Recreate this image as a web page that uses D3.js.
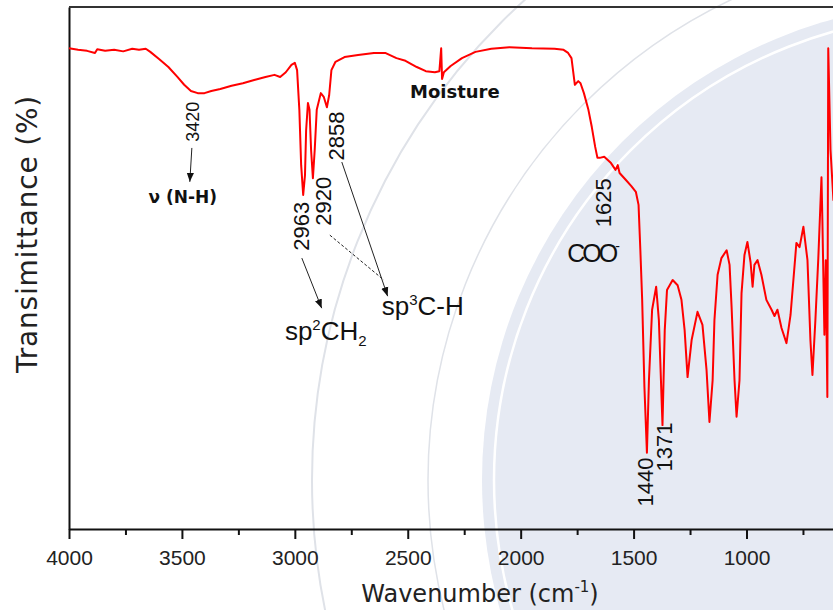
<!DOCTYPE html>
<html>
  <head>
    <title></title>
    <meta charset="UTF-8" />
    <script src="https://cdn.jsdelivr.net/npm/d3@7"></script>
    <style>
      body { margin: 0; background: #fff; }
      svg { display: block; }
    </style>
  </head>
  <body>
    <svg></svg>
    <script>
      // 1. data
      const wavenumber = [
        4000, 3960, 3920, 3885, 3875, 3840, 3800, 3760, 3720, 3690, 3660, 3640,
        3600, 3560, 3520, 3490, 3460, 3430, 3400, 3370, 3330, 3280, 3230, 3180,
        3130, 3090, 3065, 3040, 3015, 3000, 2990, 2980, 2972, 2963, 2955, 2950,
        2942, 2935, 2928, 2920, 2912, 2903, 2885, 2872, 2858, 2848, 2838, 2820,
        2780, 2720, 2650, 2600, 2550, 2510, 2460, 2420, 2380, 2360, 2352, 2348,
        2340, 2310, 2260, 2200, 2130, 2050, 1950, 1850, 1810, 1790, 1775, 1760,
        1745, 1735, 1720, 1700, 1685, 1670, 1660, 1650, 1630, 1600, 1580, 1570,
        1562, 1535, 1510, 1490, 1478, 1470, 1462, 1452, 1441, 1432, 1418, 1400,
        1388, 1372, 1362, 1352, 1327, 1305, 1288, 1274, 1261, 1243, 1217, 1195,
        1177, 1164, 1150, 1142, 1128, 1111, 1088, 1075, 1066, 1053, 1044, 1031,
        1022, 1009, 996, 982, 973, 965, 951, 934, 912, 889, 876, 863, 845, 823,
        805, 779, 765, 748, 730, 717, 708, 695, 682, 668, 664, 655, 649, 642,
        638, 628, 615, 600
      ]
      const transmittance = [
        92.1, 91.8, 91.6, 91.2, 91.9, 91.6, 91.8, 91.5, 92.0, 91.8, 92.0, 91.4,
        90.0, 88.5, 86.6, 85.1, 83.9, 83.5, 83.5, 83.9, 84.3, 84.9, 85.4, 86.0,
        86.6, 87.0, 86.6, 87.5, 88.9, 89.3, 87.9, 80.3, 69.7, 64.0, 67.8, 76.4,
        81.6, 80.3, 72.6, 67.2, 72.6, 80.3, 83.5, 82.8, 80.8, 83.1, 87.9, 89.5,
        90.4, 90.8, 91.2, 91.2, 90.2, 89.7, 88.5, 87.7, 87.5, 87.7, 92.1, 86.2,
        87.5, 88.7, 90.2, 91.4, 92.0, 92.3, 92.1, 92.0, 91.8, 91.2, 90.2, 85.1,
        85.8, 85.4, 83.5, 80.3, 77.0, 73.2, 71.1, 71.1, 71.3, 70.1, 68.8, 69.7,
        68.2, 66.9, 65.7, 64.6, 62.1, 53.4, 43.9, 27.2, 14.6, 28.5, 42.0, 46.4,
        40.0, 19.9, 38.1, 45.8, 47.7, 46.7, 43.9, 38.1, 29.1, 36.2, 41.6, 39.1,
        30.5, 20.5, 28.5, 40.0, 48.7, 51.9, 53.4, 50.6, 42.5, 28.5, 21.5, 28.5,
        45.2, 52.5, 55.0, 51.1, 46.4, 50.6, 51.5, 48.7, 43.9, 42.0, 40.8, 42.0,
        38.5, 35.6, 41.0, 54.8, 54.0, 57.9, 51.5, 36.2, 29.5, 40.0, 51.9, 67.4,
        59.2, 37.2, 51.5, 25.3, 92.1, 72.6, 63.0, 72.6
      ]
      const majorTicks = [4000, 3500, 3000, 2500, 2000, 1500, 1000]
      const minorTicks = [3750, 3250, 2750, 2250, 1750, 1250, 750]
      const peakLabels = ["3420", "2963", "2920", "2858", "1625", "1440", "1371"]

      // 2. setup
      const width = 833
      const height = 610
      const marge = { top: 7, bottom: 81, left: 69 }
      const plotRight = 882

      const svg = d3
        .select("svg")
        .attr("width", width)
        .attr("height", height)
        .attr("viewBox", [0, 0, width, height])

      const x = d3.scaleLinear().domain([4000, 400]).range([marge.left, plotRight])
      const y = d3.scaleLinear().domain([0, 100]).range([height - marge.bottom, marge.top])

      // 3. background watermark (circles)
      const wm = svg.append("g")
      wm.append("circle").attr("cx", 960).attr("cy", 480).attr("r", 478).attr("fill", "#e6eaf3")
      wm.append("circle").attr("cx", 960).attr("cy", 480).attr("r", 466)
        .attr("fill", "none").attr("stroke", "#fff").attr("stroke-width", 2.5)
      wm.append("circle").attr("cx", 960).attr("cy", 480).attr("r", 532)
        .attr("fill", "none").attr("stroke", "#dfe2e8").attr("stroke-width", 1.5)
      wm.append("circle").attr("cx", 960).attr("cy", 480).attr("r", 648)
        .attr("fill", "none").attr("stroke", "#dfe2e8").attr("stroke-width", 2)

      // 4. axes
      svg.append("g")
        .attr("transform", `translate(0,${height - marge.bottom})`)
        .call(d3.axisBottom(x).tickValues(minorTicks).tickSize(6).tickFormat("").tickSizeOuter(0))
        .call((g) => g.select(".domain").remove())
        .call((g) => g.selectAll(".tick line").attr("stroke", "#111").attr("stroke-width", 2))

      svg.append("g")
        .attr("transform", `translate(0,${height - marge.bottom})`)
        .call(d3.axisBottom(x).tickValues(majorTicks).tickFormat(d3.format("d")).tickSize(10).tickSizeOuter(0))
        .call((g) => g.select(".domain").attr("stroke", "#111").attr("stroke-width", 2))
        .call((g) => g.selectAll(".tick line").attr("stroke", "#111").attr("stroke-width", 2))
        .call((g) =>
          g.selectAll(".tick text")
            .attr("y", 36)
            .attr("dy", 0)
            .attr("fill", "#222")
            .attr("font-family", "Liberation Sans, Arial, sans-serif")
            .attr("font-size", 21)
        )

      svg.append("g")
        .attr("transform", `translate(${marge.left},0)`)
        .call(d3.axisLeft(y).tickValues([]).tickSizeOuter(0))
        .call((g) => g.select(".domain").attr("stroke", "#111").attr("stroke-width", 2))

      // top frame
      svg.append("line")
        .attr("x1", marge.left).attr("x2", plotRight)
        .attr("y1", marge.top).attr("y2", marge.top)
        .attr("stroke", "#333").attr("stroke-width", 2)

      // axis titles
      const xt = svg.append("text")
        .attr("x", 480).attr("y", 602)
        .attr("text-anchor", "middle")
        .attr("font-family", "DejaVu Sans, sans-serif")
        .attr("font-size", 24)
        .attr("fill", "#222")
      xt.append("tspan").text("Wavenumber (cm")
      xt.append("tspan").attr("font-size", 15).attr("dy", -10).text("-1")
      xt.append("tspan").attr("dy", 10).text(")")

      svg.append("text")
        .attr("transform", "translate(37,234) rotate(-90)")
        .attr("text-anchor", "middle")
        .attr("font-family", "DejaVu Sans, sans-serif")
        .attr("font-size", 28)
        .attr("letter-spacing", 0.8)
        .attr("fill", "#222")
        .text("Transimittance (%)")

      // 5. spectrum line
      const data = d3.zip(wavenumber, transmittance)
      const line = d3.line().x((d) => x(d[0])).y((d) => y(d[1]))

      svg.append("path")
        .datum(data)
        .attr("fill", "none")
        .attr("stroke", "#ff0000")
        .attr("stroke-width", 2)
        .attr("stroke-linejoin", "round")
        .attr("d", line)

      // 6. annotations
      svg.append("defs").append("marker")
        .attr("id", "arrow")
        .attr("viewBox", "0 0 10 10")
        .attr("refX", 10).attr("refY", 5)
        .attr("markerWidth", 9).attr("markerHeight", 9)
        .attr("markerUnits", "userSpaceOnUse")
        .attr("orient", "auto")
        .append("path")
        .attr("d", "M0,1 L10,5 L0,9 Z")
        .attr("fill", "#111")

      const ann = svg.append("g").attr("fill", "#111")

      function rotLabel(text, w, t, size) {
        ann.append("text")
          .attr("transform", `translate(${x(w)},${y(t)}) rotate(-90)`)
          .attr("text-anchor", "middle")
          .attr("dominant-baseline", "central")
          .attr("font-family", "Liberation Sans, Arial, sans-serif")
          .attr("font-size", size)
          .text(text)
      }
      function arrow(w1, t1, w2, t2, dashed, head) {
        ann.append("line")
          .attr("x1", x(w1)).attr("y1", y(t1))
          .attr("x2", x(w2)).attr("y2", y(t2))
          .attr("stroke", "#222")
          .attr("stroke-width", 1)
          .attr("stroke-dasharray", dashed ? "3,2" : null)
          .attr("marker-end", head ? "url(#arrow)" : null)
      }

      rotLabel(peakLabels[0], 3449, 78.0, 18)
      rotLabel(peakLabels[1], 2969, 58.0, 22)
      rotLabel(peakLabels[2], 2872, 62.8, 22)
      rotLabel(peakLabels[3], 2814, 75.3, 22)
      rotLabel(peakLabels[4], 1633, 62.5, 22)
      rotLabel(peakLabels[5], 1447, 9.0, 22)
      rotLabel(peakLabels[6], 1363, 15.7, 22)

      arrow(3456, 73.0, 3465, 66.5, false, true)
      arrow(2969, 51.9, 2881, 42.3, false, true)
      arrow(2792, 70.3, 2589, 44.6, false, true)
      arrow(2845, 56.3, 2606, 47.7, true, false)

      ann.append("text")
        .attr("x", x(3496)).attr("y", y(62.5))
        .attr("text-anchor", "middle")
        .attr("font-family", "DejaVu Sans, sans-serif")
        .attr("font-weight", "bold")
        .attr("font-size", 17)
        .text("ν (N-H)")

      ann.append("text")
        .attr("x", x(2490)).attr("y", y(82.6))
        .attr("font-family", "DejaVu Sans, sans-serif")
        .attr("font-weight", "bold")
        .attr("font-size", 18)
        .text("Moisture")

      const sp2 = ann.append("text")
        .attr("x", x(3044)).attr("y", y(36.2))
        .attr("font-family", "Liberation Sans, Arial, sans-serif")
        .attr("font-size", 26)
      sp2.append("tspan").text("sp")
      sp2.append("tspan").attr("font-size", 15).attr("dy", -10).text("2")
      sp2.append("tspan").attr("dy", 10).text("CH")
      sp2.append("tspan").attr("font-size", 15).attr("dy", 6).text("2")

      const sp3 = ann.append("text")
        .attr("x", x(2615)).attr("y", y(41.0))
        .attr("font-family", "Liberation Sans, Arial, sans-serif")
        .attr("font-size", 26)
      sp3.append("tspan").text("sp")
      sp3.append("tspan").attr("font-size", 15).attr("dy", -10).text("3")
      sp3.append("tspan").attr("dy", 10).text("C-H")

      const coo = ann.append("text")
        .attr("x", x(1794)).attr("y", y(51.1))
        .attr("font-family", "Liberation Sans, Arial, sans-serif")
        .attr("font-size", 25)
        .attr("letter-spacing", -3)
      coo.append("tspan").text("COO")
      coo.append("tspan").attr("font-size", 14).attr("dy", -11).text("-")
    </script>
  </body>
</html>
